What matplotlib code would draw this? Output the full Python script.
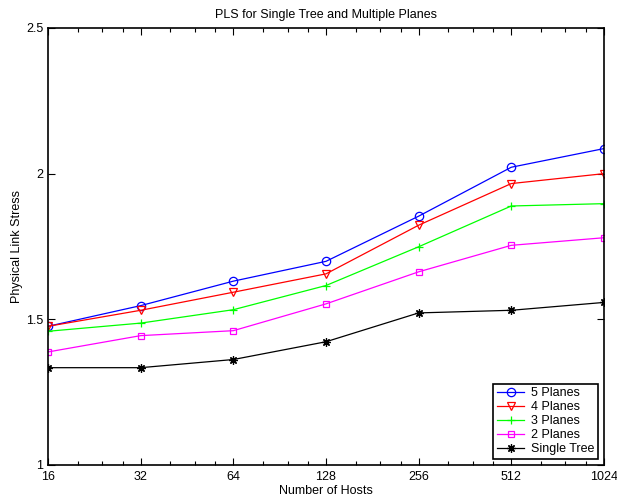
"""
PLS for Single Tree and Multiple Planes
Physical link stress vs number of hosts
"""

import numpy as np
import matplotlib
matplotlib.use('Agg')
import matplotlib.pyplot as plt
import matplotlib.ticker as mticker

plt.rcParams['font.family'] = ['Liberation Sans', 'DejaVu Sans']

# Dados
hosts = [16, 32, 64, 128, 256, 512, 1024]
pls_5_planes = [1.476, 1.547, 1.631, 1.699, 1.854, 2.022, 2.086]
pls_4_planes = [1.476, 1.531, 1.593, 1.656, 1.823, 1.966, 2.000]
pls_3_planes = [1.459, 1.487, 1.533, 1.616, 1.749, 1.889, 1.897]
pls_2_planes = [1.388, 1.444, 1.461, 1.553, 1.663, 1.754, 1.780]
pls_single = [1.334, 1.334, 1.362, 1.423, 1.522, 1.531, 1.558]

series = [
    ('5 Planes', pls_5_planes, '#0000ff', 'o'),
    ('4 Planes', pls_4_planes, '#ff0000', 'v'),
    ('3 Planes', pls_3_planes, '#00ff00', '+'),
    ('2 Planes', pls_2_planes, '#ff00ff', 's'),
    ('Single Tree', pls_single, '#000000', (8, 2, 0)),
]

fig = plt.figure(figsize=(6.17, 4.97), dpi=100)
ax = fig.add_axes([0.0778, 0.0644, 0.901, 0.8793])

for label, vals, cor, mk in series:
    aberto = mk in ('o', 'v', 's')
    ms = 5 if mk == 's' else 6
    ax.plot(hosts, vals, '-', color=cor, marker=mk, linewidth=0.9,
            markersize=ms, markerfacecolor='none' if aberto else cor,
            markeredgecolor=cor, markeredgewidth=0.9, label=label)

ax.set_xscale('log', base=2)
ax.set_xlim(16, 1024)
ax.set_ylim(1, 2.5)
ax.set_xticks(hosts)
ax.xaxis.set_major_formatter(mticker.FixedFormatter([str(h) for h in hosts]))
ax.xaxis.set_minor_locator(mticker.LogLocator(base=2, subs=[1.25, 1.5, 1.75]))
ax.xaxis.set_minor_formatter(mticker.NullFormatter())
ax.set_yticks([1, 1.5, 2, 2.5])
ax.set_yticklabels(['1', '1.5', '2', '2.5'])

ax.tick_params(which='both', direction='in', top=True, right=True,
               labelsize=9, width=0.8)
ax.tick_params(which='major', length=5)
ax.tick_params(which='minor', length=3)
ax.tick_params(axis='x', pad=4)
for s in ax.spines.values():
    s.set_linewidth(1.2)

ax.set_xlabel('Number of Hosts', fontsize=9, labelpad=2)
ax.set_ylabel('Physical Link Stress', fontsize=9, labelpad=2)
ax.set_title('PLS for Single Tree and Multiple Planes', fontsize=9, pad=7)

leg = ax.legend(loc='lower right', fontsize=9, frameon=True, fancybox=False,
                edgecolor='black', framealpha=1, borderaxespad=0.5,
                handlelength=2.2, labelspacing=0.15, borderpad=0.3,
                handletextpad=0.5)
leg.get_frame().set_linewidth(1.2)

plt.savefig('out.png', dpi=100)
plt.close()
